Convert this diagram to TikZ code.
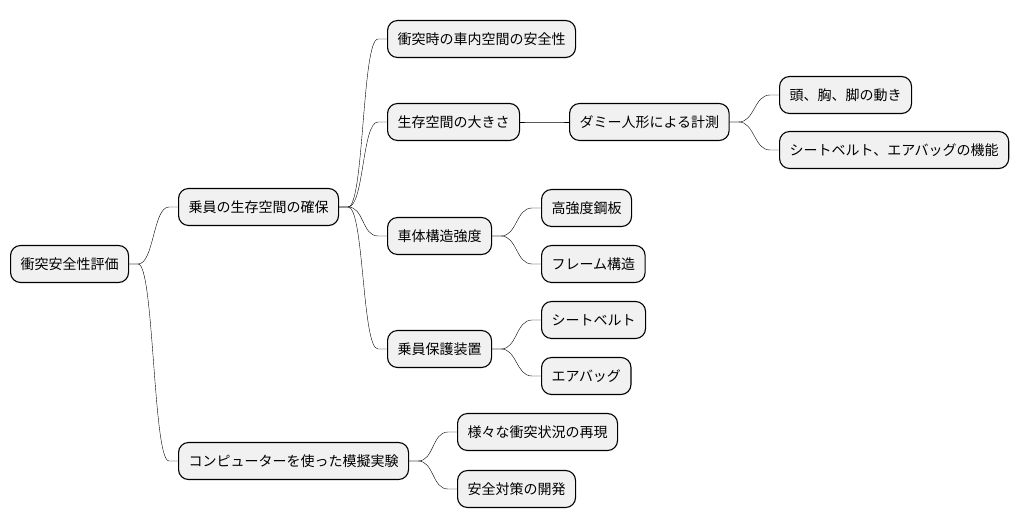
\documentclass[tikz,border=0pt]{standalone}
\usepackage{fontspec}
\usepackage{tikz}
\newfontfamily\cjk{Noto Sans CJK JP}
\definecolor{boxfill}{HTML}{F1F1F1}

\begin{document}
\begin{tikzpicture}[line cap=round,line join=round,x=1pt,y=-1pt,
  topic/.style={draw,line width=1.1pt,fill=boxfill,rounded corners=10pt,
    anchor=west,inner xsep=10pt,inner ysep=0pt,minimum height=37pt,
    font=\cjk\fontsize{14}{16}\selectfont},
  link/.style={line width=0.8pt,to path={-- ++(9,0)
    .. controls +(16,0) and +(-16,0) .. ([xshift=-9pt]\tikztotarget)
    -- (\tikztotarget)}}]
\useasboundingbox (0,0) rectangle (1020,527);
% root
\node[topic] (root) at (10,264) {衝突安全性評価};
% first level
\node[topic] (space) at (178,207) {乗員の生存空間の確保};
\node[topic] (sim) at (178,461) {コンピューターを使った模擬実験};
% second level
\node[topic] (cabin) at (387,39) {衝突時の車内空間の安全性};
\node[topic] (size) at (387,122) {生存空間の大きさ};
\node[topic] (body) at (387,236) {車体構造強度};
\node[topic] (prot) at (387,349) {乗員保護装置};
\node[topic] (dummy) at (569,122) {ダミー人形による計測};
\node[topic] (move) at (779,95) {頭、胸、脚の動き};
\node[topic] (func) at (779,150) {シートベルト、エアバッグの機能};
\node[topic] (steel) at (541,208) {高強度鋼板};
\node[topic] (frame) at (541,264) {フレーム構造};
\node[topic] (belt) at (541,320) {シートベルト};
\node[topic] (bag) at (541,376) {エアバッグ};
\node[topic] (repro) at (457,432) {様々な衝突状況の再現};
\node[topic] (dev) at (457,489) {安全対策の開発};
% links
\draw (root.east) to[link] (space.west);
\draw (root.east) to[link] (sim.west);
\draw (space.east) to[link] (cabin.west);
\draw (space.east) to[link] (size.west);
\draw (space.east) to[link] (body.west);
\draw (space.east) to[link] (prot.west);
\draw (size.east) to[link] (dummy.west);
\draw (dummy.east) to[link] (move.west);
\draw (dummy.east) to[link] (func.west);
\draw (body.east) to[link] (steel.west);
\draw (body.east) to[link] (frame.west);
\draw (prot.east) to[link] (belt.west);
\draw (prot.east) to[link] (bag.west);
\draw (sim.east) to[link] (repro.west);
\draw (sim.east) to[link] (dev.west);
\end{tikzpicture}
\end{document}
